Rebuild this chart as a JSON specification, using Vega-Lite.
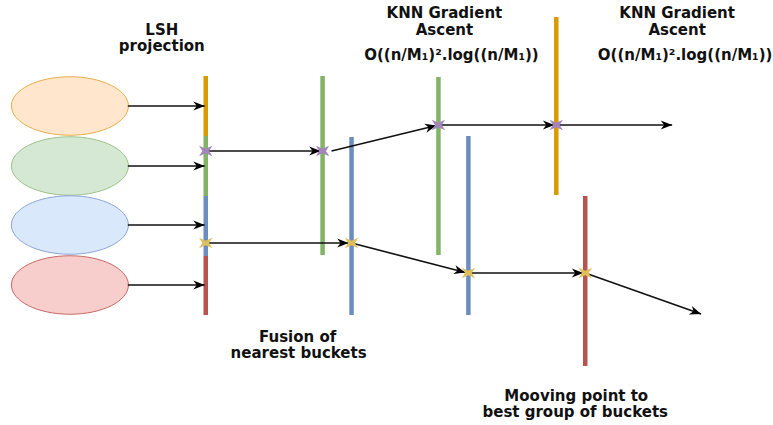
{
  "$schema": "https://vega.github.io/schema/vega-lite/v6.json",
  "width": 773,
  "height": 425,
  "autosize": {"type": "fit", "contains": "padding"},
  "padding": 0,
  "background": "white",
  "config": {"view": {"stroke": null}},
  "datasets": {
    "ellipses": [
      {"cx": 70, "cy": 106, "grp": "orange"},
      {"cx": 70, "cy": 166, "grp": "green"},
      {"cx": 70, "cy": 225, "grp": "blue"},
      {"cx": 70, "cy": 285, "grp": "red"}
    ],
    "bars": [
      {"x": 206, "y": 76, "y2": 136, "grp": "orange"},
      {"x": 206, "y": 136, "y2": 196, "grp": "green"},
      {"x": 206, "y": 196, "y2": 256, "grp": "blue"},
      {"x": 206, "y": 256, "y2": 315, "grp": "red"},
      {"x": 323, "y": 76, "y2": 255, "grp": "green"},
      {"x": 352, "y": 137, "y2": 315, "grp": "blue"},
      {"x": 439, "y": 77, "y2": 255, "grp": "green"},
      {"x": 469, "y": 136, "y2": 315, "grp": "blue"},
      {"x": 557, "y": 17, "y2": 195, "grp": "orange"},
      {"x": 586, "y": 196, "y2": 366, "grp": "red"}
    ],
    "arrows": [
      {"x": 128, "y": 106, "x2": 205, "y2": 106, "angle": 0},
      {"x": 128, "y": 166, "x2": 205, "y2": 166, "angle": 0},
      {"x": 128, "y": 225, "x2": 205, "y2": 225, "angle": 0},
      {"x": 128, "y": 285, "x2": 205, "y2": 285, "angle": 0},
      {"x": 206, "y": 151, "x2": 321, "y2": 151, "angle": 0},
      {"x": 206, "y": 243, "x2": 349, "y2": 243, "angle": 0},
      {"x": 332, "y": 151, "x2": 437, "y2": 125.5, "angle": 346.3},
      {"x": 352, "y": 243, "x2": 466, "y2": 272.5, "angle": 14.4},
      {"x": 439, "y": 125, "x2": 555, "y2": 125, "angle": 0},
      {"x": 469, "y": 273, "x2": 584, "y2": 273, "angle": 0},
      {"x": 557, "y": 125, "x2": 673, "y2": 125, "angle": 0},
      {"x": 586, "y": 273, "x2": 702, "y2": 314, "angle": 19.5}
    ],
    "crosses": [
      {"x": 206, "y": 151, "kind": "purple"},
      {"x": 323, "y": 151, "kind": "purple"},
      {"x": 439, "y": 125, "kind": "purple"},
      {"x": 557, "y": 125, "kind": "purple"},
      {"x": 206, "y": 243, "kind": "yellow"},
      {"x": 352, "y": 243, "kind": "yellow"},
      {"x": 469, "y": 273, "kind": "yellow"},
      {"x": 586, "y": 273, "kind": "yellow"}
    ],
    "labels": [
      {"x": 162, "y": 29.5, "label": "LSH"},
      {"x": 162, "y": 46, "label": "projection"},
      {"x": 445, "y": 13, "label": "KNN Gradient"},
      {"x": 445, "y": 29.5, "label": "Ascent"},
      {"x": 452, "y": 54.5, "label": "O((n/M₁)².log((n/M₁))"},
      {"x": 678, "y": 13, "label": "KNN Gradient"},
      {"x": 678, "y": 29.5, "label": "Ascent"},
      {"x": 686, "y": 54.5, "label": "O((n/M₁)².log((n/M₁))"},
      {"x": 298, "y": 336.5, "label": "Fusion of"},
      {"x": 299, "y": 353, "label": "nearest buckets"},
      {"x": 577, "y": 395.5, "label": "Mooving point to"},
      {"x": 576, "y": 412, "label": "best group of buckets"}
    ]
  },
  "resolve": {"scale": {"fill": "independent", "stroke": "independent", "color": "independent"}},
  "layer": [
    {
      "data": {"name": "ellipses"},
      "mark": {
        "type": "point",
        "shape": "M-1,0 C-1,-0.276 -0.552,-0.5 0,-0.5 C0.552,-0.5 1,-0.276 1,0 C1,0.276 0.552,0.5 0,0.5 C-0.552,0.5 -1,0.276 -1,0 Z",
        "size": 13689,
        "filled": true,
        "opacity": 1,
        "strokeWidth": 1
      },
      "encoding": {
        "x": {"field": "cx", "type": "quantitative", "scale": {"domain": [0, 773], "nice": false, "zero": false}, "axis": null},
        "y": {"field": "cy", "type": "quantitative", "scale": {"domain": [0, 425], "nice": false, "zero": false, "reverse": true}, "axis": null},
        "fill": {"field": "grp", "type": "nominal", "scale": {"domain": ["orange", "green", "blue", "red"], "range": ["#ffe6cc", "#d5e8d4", "#dae8fc", "#f8cecc"]}, "legend": null},
        "stroke": {"field": "grp", "type": "nominal", "scale": {"domain": ["orange", "green", "blue", "red"], "range": ["#e6b04a", "#9cc48a", "#8aa6d6", "#c46a66"]}, "legend": null}
      }
    },
    {
      "data": {"name": "bars"},
      "mark": {"type": "rule", "strokeWidth": 4.5, "strokeCap": "butt"},
      "encoding": {
        "x": {"field": "x", "type": "quantitative", "scale": {"domain": [0, 773], "nice": false, "zero": false}, "axis": null},
        "y": {"field": "y", "type": "quantitative", "scale": {"domain": [0, 425], "nice": false, "zero": false, "reverse": true}, "axis": null},
        "y2": {"field": "y2"},
        "color": {"field": "grp", "type": "nominal", "scale": {"domain": ["orange", "green", "blue", "red"], "range": ["#d99c00", "#82b366", "#6c8ebf", "#b85450"]}, "legend": null}
      }
    },
    {
      "data": {"name": "arrows"},
      "mark": {"type": "rule", "strokeWidth": 1.6, "color": "#111111"},
      "encoding": {
        "x": {"field": "x", "type": "quantitative", "scale": {"domain": [0, 773], "nice": false, "zero": false}, "axis": null},
        "y": {"field": "y", "type": "quantitative", "scale": {"domain": [0, 425], "nice": false, "zero": false, "reverse": true}, "axis": null},
        "x2": {"field": "x2"},
        "y2": {"field": "y2"}
      }
    },
    {
      "data": {"name": "arrows"},
      "mark": {"type": "point", "shape": "M0,0 L-2,-0.8 L-1.4,0 L-2,0.8 Z", "size": 130, "filled": true, "opacity": 1, "color": "#000000"},
      "encoding": {
        "x": {"field": "x2", "type": "quantitative", "scale": {"domain": [0, 773], "nice": false, "zero": false}, "axis": null},
        "y": {"field": "y2", "type": "quantitative", "scale": {"domain": [0, 425], "nice": false, "zero": false, "reverse": true}, "axis": null},
        "angle": {"field": "angle", "type": "quantitative", "scale": {"domain": [0, 360], "range": [0, 360]}}
      }
    },
    {
      "data": {"name": "crosses"},
      "mark": {"type": "point", "shape": "M-1,-0.8 L0,-0.35 L1,-0.8 L0.5,0 L1,0.8 L0,0.35 L-1,0.8 L-0.5,0 Z", "size": 180, "filled": true, "opacity": 1},
      "encoding": {
        "x": {"field": "x", "type": "quantitative", "scale": {"domain": [0, 773], "nice": false, "zero": false}, "axis": null},
        "y": {"field": "y", "type": "quantitative", "scale": {"domain": [0, 425], "nice": false, "zero": false, "reverse": true}, "axis": null},
        "fill": {"field": "kind", "type": "nominal", "scale": {"domain": ["purple", "yellow"], "range": ["#a484bc", "#dfbf5c"]}, "legend": null}
      }
    },
    {
      "data": {"name": "labels"},
      "mark": {"type": "text", "font": "DejaVu Sans", "fontWeight": "bold", "fontSize": 15, "align": "center", "baseline": "middle", "color": "#111111"},
      "encoding": {
        "x": {"field": "x", "type": "quantitative", "scale": {"domain": [0, 773], "nice": false, "zero": false}, "axis": null},
        "y": {"field": "y", "type": "quantitative", "scale": {"domain": [0, 425], "nice": false, "zero": false, "reverse": true}, "axis": null},
        "text": {"field": "label", "type": "nominal"}
      }
    }
  ]
}
